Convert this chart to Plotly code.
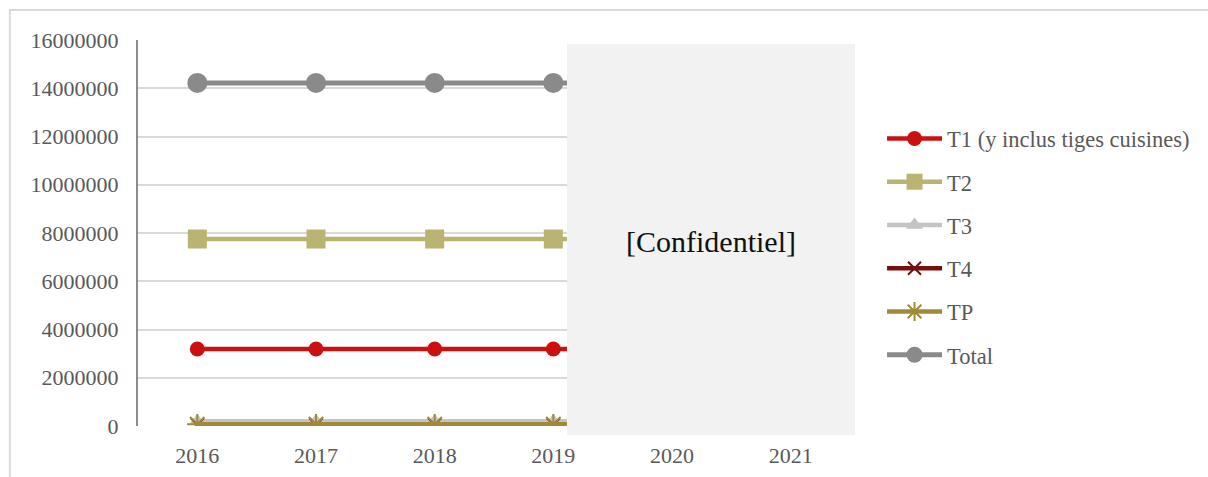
import plotly.graph_objects as go

# Years on the category axis
years = ["2016", "2017", "2018", "2019", "2020", "2021"]

# Sales volumes per product type
t1 = [3190000, 3190000, 3190000, 3190000, 3190000, 3190000]
t2 = [7750000, 7750000, 7750000, 7750000, 7750000, 7750000]
t3 = [200000, 200000, 200000, 200000, 200000, 200000]
t4 = [50000, 50000, 50000, 50000, 50000, 50000]
tp = [70000, 70000, 70000, 70000, 70000, 70000]
total = [14220000, 14220000, 14220000, 14220000, 14220000, 14220000]

y_ticks = [0, 2000000, 4000000, 6000000, 8000000, 10000000, 12000000, 14000000, 16000000]
y_tick_text = [str(v) for v in y_ticks]

FONT = "Liberation Serif"
TEXT_GREY = "#595959"

series = [
    ("T1 (y inclus tiges cuisines)", t1, "#cc1010", "circle", 15, 4.5),
    ("T2", t2, "#bab472", "square", 19, 4.5),
    ("T3", t3, "#c4c4c4", "triangle-up", 15, 4.5),
    ("T4", t4, "#7a0c0c", "x-thin-open", 13, 4.5),
    ("TP", tp, "#a08a3a", "asterisk-open", 17, 4.5),
    ("Total", total, "#8a8a8a", "circle", 20, 5),
]

fig = go.Figure()
for i, (name, vals, color, symbol, size, width) in enumerate(series):
    open_sym = symbol.endswith("-open")
    fig.add_trace(go.Scatter(
        x=years, y=vals, name=name, mode="lines+markers",
        legendgroup=f"g{i}",
        line=dict(color=color, width=width),
        marker=dict(symbol=symbol, size=size, color=color,
                    line=dict(color=color, width=2 if open_sym else 0)),
    ))

fig.update_layout(
    width=1208, height=477,
    margin=dict(l=138, r=358, t=40, b=51, autoexpand=False),
    paper_bgcolor="white", plot_bgcolor="white",
    font=dict(family=FONT, size=22, color=TEXT_GREY),
    showlegend=True,
    legend=dict(
        x=1.045, xanchor="left", y=0.464, yanchor="middle",
        font=dict(family=FONT, size=22.5, color=TEXT_GREY),
        tracegroupgap=11, itemwidth=55,
        bgcolor="rgba(0,0,0,0)",
    ),
    xaxis=dict(
        type="category", categoryorder="array", categoryarray=years,
        range=[-0.5, 5.5], showgrid=False, zeroline=False, showline=False,
        ticks="", ticklabelstandoff=14,
        tickfont=dict(family=FONT, size=22, color=TEXT_GREY),
    ),
    yaxis=dict(
        range=[0, 16000000], tickvals=y_ticks, ticktext=y_tick_text,
        showgrid=True, gridcolor="#d9d9d9", gridwidth=2,
        zeroline=False, showline=True, linecolor="#8c8c8c", linewidth=2,
        ticks="", ticklabelstandoff=13,
        tickfont=dict(family=FONT, size=22, color=TEXT_GREY),
    ),
    shapes=[
        # outer frame of the chart
        dict(type="rect", xref="paper", yref="paper",
             x0=-0.180, x1=1.60, y0=-0.30, y1=1.078,
             line=dict(color="#d9d9d9", width=2), fillcolor="rgba(0,0,0,0)",
             layer="below"),
        # masked region for 2020-2021
        dict(type="rect", xref="paper", yref="paper",
             x0=0.6025, x1=1.007, y0=-0.0233, y1=0.9896,
             line=dict(width=0), fillcolor="#f2f2f2", layer="above"),
    ],
    annotations=[
        dict(text="[Confidentiel]", xref="paper", yref="paper",
             x=0.8047, y=0.477, xanchor="center", yanchor="middle",
             showarrow=False, font=dict(family=FONT, size=30, color="#111111")),
    ],
)

fig.write_html("out.html")
